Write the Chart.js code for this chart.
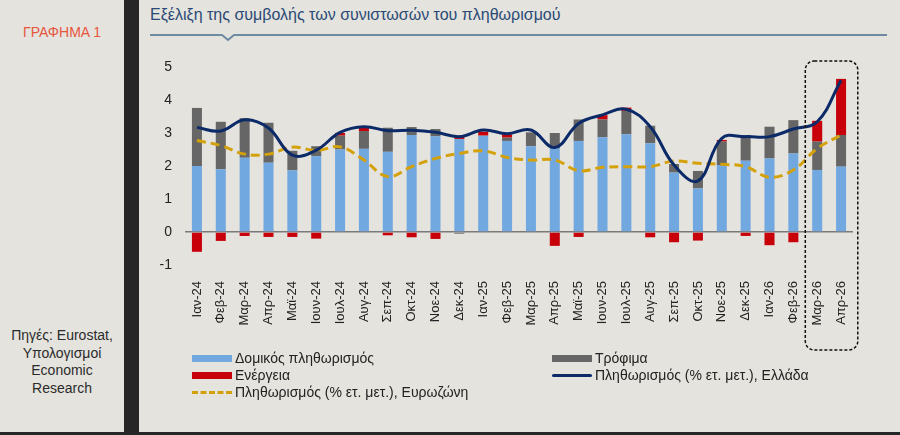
<!DOCTYPE html>
<html>
<head>
<meta charset="utf-8">
<script src="https://cdn.jsdelivr.net/npm/chart.js@4.4.1/dist/chart.umd.min.js"></script>
<style>
  body { margin: 0; background: #e4e3de; font-family: "Liberation Sans", Arial, sans-serif; }
  #page { position: relative; width: 900px; height: 435px; overflow: hidden; background: #e4e3de; }
  #chart { position: absolute; left: 0; top: 0; }
  .side { position: absolute; left: 124px; top: 0; width: 15px; height: 435px; background: #262626; }
  .bottom { position: absolute; left: 0; top: 432px; width: 900px; height: 3px; background: #262626; }
  .tag { position: absolute; left: 0; width: 124px; top: 24px; text-align: center; color: #e8553d; font-size: 14px; }
  .src { position: absolute; left: 0; width: 124px; top: 327px; text-align: center; color: #2b2b2b; font-size: 14px; line-height: 17.5px; }
  .title { position: absolute; left: 150px; top: 6px; color: #2a4a75; font-size: 16px; }
  .legend { position: absolute; font-size: 14px; color: #222; }
  .legend div { position: absolute; white-space: nowrap; height: 16px; line-height: 16px; }
  .sw { display: inline-block; width: 40px; height: 7px; vertical-align: middle; margin-right: 3px; position: relative; top: -1px; }
</style>
</head>
<body>
<div id="page">
  <div class="side"></div>
  <div class="bottom"></div>
  <div class="tag">ΓΡΑΦΗΜΑ 1</div>
  <div class="src">Πηγές: Eurostat,<br>Υπολογισμοί<br>Economic<br>Research</div>
  <div class="title">Εξέλιξη της συμβολής των συνιστωσών του πληθωρισμού</div>
  <svg style="position:absolute;left:0;top:0" width="900" height="50">
    <polyline points="150,35 222,35 228,40 234,35 887,35" fill="none" stroke="#6e8aa3" stroke-width="2"/>
  </svg>
  <canvas id="chart" width="900" height="435"></canvas>
  <div class="legend" id="legend"></div>
</div>
<script>
const months = ['Ιαν-24', 'Φεβ-24', 'Μαρ-24', 'Απρ-24', 'Μαϊ-24', 'Ιουν-24', 'Ιουλ-24', 'Αυγ-24', 'Σεπ-24', 'Οκτ-24', 'Νοε-24', 'Δεκ-24',
  'Ιαν-25', 'Φεβ-25', 'Μαρ-25', 'Απρ-25', 'Μαϊ-25', 'Ιουν-25', 'Ιουλ-25', 'Αυγ-25', 'Σεπ-25', 'Οκτ-25', 'Νοε-25', 'Δεκ-25',
  'Ιαν-26', 'Φεβ-26', 'Μαρ-26', 'Απρ-26'];

// contributions (percentage points)
const core = [2.0, 1.9, 2.25, 2.1, 1.87, 2.3, 2.5, 2.52, 2.43, 2.94, 2.9, 2.82,
  2.92, 2.76, 2.6, 2.53, 2.76, 2.87, 2.96, 2.69, 1.8, 1.32, 2.03, 2.16,
  2.23, 2.38, 1.88, 1.98];
const food = [1.76, 1.44, 1.2, 1.21, 0.59, 0.3, 0.42, 0.54, 0.73, 0.24, 0.22, -0.05,
  0, 0.1, 0.42, 0.47, 0.65, 0.54, 0.71, 0.53, 0.26, 0.53, 0.71, 0.78,
  0.96, 1.01, 0.86, 0.96];
const energy = [-0.6, -0.27, -0.12, -0.15, -0.15, -0.2, 0.08, 0.14, -0.1, -0.16, -0.21, 0.1,
  0.12, 0.1, 0, -0.42, -0.15, 0.13, 0.1, -0.16, -0.31, -0.26, 0.05, -0.12,
  -0.4, -0.31, 0.63, 1.7];

// headline inflation, % y/y
const greece = [3.17, 3.06, 3.4, 3.15, 2.33, 2.48, 3.02, 3.19, 3.07, 3.08, 3.02, 2.89,
  3.09, 2.98, 3.09, 2.56, 3.29, 3.55, 3.72, 3.19, 2.03, 1.55, 2.84, 2.89,
  2.89, 3.12, 3.34, 4.6];
const euroArea = [2.77, 2.62, 2.36, 2.36, 2.57, 2.47, 2.58, 2.18, 1.68, 1.98, 2.23, 2.38,
  2.46, 2.26, 2.18, 2.18, 1.86, 1.96, 1.98, 1.98, 2.15, 2.08, 2.05, 1.98,
  1.66, 1.88, 2.53, 2.94];

const yTicks = [-1, 0, 1, 2, 3, 4, 5];

const legendNames = {
  core: 'Δομικός πληθωρισμός',
  food: 'Τρόφιμα',
  energy: 'Ενέργεια',
  greece: 'Πληθωρισμός (% ετ. μετ.), Ελλάδα',
  euro: 'Πληθωρισμός (% ετ. μετ.), Ευρωζώνη'
};

const BLUE = '#72a8e0', GREY = '#666666', RED = '#c8000a', NAVY = '#0c2a68', GOLD = '#d4a10a';

// dashed rounded box around the last two months
const focusBox = {
  id: 'focusBox',
  afterDatasetsDraw(chart) {
    const x = chart.scales.x, y = chart.scales.y, ctx = chart.ctx;
    const step = x.getPixelForValue(1) - x.getPixelForValue(0);
    const left = (x.getPixelForValue(25) + x.getPixelForValue(26)) / 2;
    const right = x.getPixelForValue(27) + step * 0.7;
    const top = y.getPixelForValue(5) - 6;
    const bottom = chart.chartArea.bottom + 85;
    ctx.save();
    ctx.strokeStyle = '#111';
    ctx.lineWidth = 1.5;
    ctx.setLineDash([3, 2]);
    ctx.beginPath();
    ctx.roundRect(left, top, right - left, bottom - top, 9);
    ctx.stroke();
    ctx.restore();
  }
};

const ctx = document.getElementById('chart').getContext('2d');
const chart = new Chart(ctx, {
  type: 'bar',
  data: {
    labels: months,
    datasets: [
      { type: 'line', label: legendNames.greece, data: greece, borderColor: NAVY, borderWidth: 3,
        pointRadius: 0, tension: 0.4, stack: 'gr', order: 0, fill: false },
      { type: 'line', label: legendNames.euro, data: euroArea, borderColor: GOLD, borderWidth: 3,
        borderDash: [9, 5], pointRadius: 0, tension: 0.4, stack: 'ez', order: 0, fill: false },
      { label: legendNames.core, data: core, backgroundColor: BLUE, stack: 'c', order: 1 },
      { label: legendNames.food, data: food, backgroundColor: GREY, stack: 'c', order: 1 },
      { label: legendNames.energy, data: energy, backgroundColor: RED, stack: 'c', order: 1 }
    ]
  },
  options: {
    responsive: false,
    animation: false,
    layout: { padding: { left: 140, right: 47, top: 67, bottom: 0 } },
    datasets: { bar: { barPercentage: 0.42, categoryPercentage: 1 } },
    plugins: { legend: { display: false }, tooltip: { enabled: false } },
    scales: {
      x: {
        stacked: true,
        grid: { display: false },
        border: { display: false },
        ticks: { minRotation: 90, maxRotation: 90, autoSkip: false, padding: 8,
          color: '#222', font: { family: 'Liberation Sans', size: 13 } },
        afterFit(scale) { scale.height = 170; }
      },
      y: {
        stacked: true,
        min: -1, max: 5,
        afterBuildTicks(scale) { scale.ticks = yTicks.map(v => ({ value: v })); },
        grid: {
          drawTicks: false,
          color: c => (c.tick && c.tick.value === 0 ? '#7a7a7a' : 'rgba(0,0,0,0)'),
          lineWidth: 1.5
        },
        border: { display: false },
        ticks: { padding: 13, color: '#222', font: { family: 'Liberation Sans', size: 14 } },
        afterFit(scale) { scale.width = 45; }
      }
    }
  },
  plugins: [focusBox]
});

// two-column legend
const legendItems = [
  { name: legendNames.core, x: 192, y: 350, sw: `background:${BLUE}` },
  { name: legendNames.food, x: 552, y: 350, sw: `background:${GREY}` },
  { name: legendNames.energy, x: 192, y: 367, sw: `background:${RED}` },
  { name: legendNames.greece, x: 552, y: 367, sw: `height:3px;border-radius:2px;background:${NAVY}` },
  { name: legendNames.euro, x: 192, y: 384, sw: `height:0;border-top:3px dashed ${GOLD}` }
];
document.getElementById('legend').innerHTML = legendItems.map(it =>
  `<div style="left:${it.x}px;top:${it.y}px"><span class="sw" style="${it.sw}"></span>${it.name}</div>`
).join('');
</script>
</body>
</html>
